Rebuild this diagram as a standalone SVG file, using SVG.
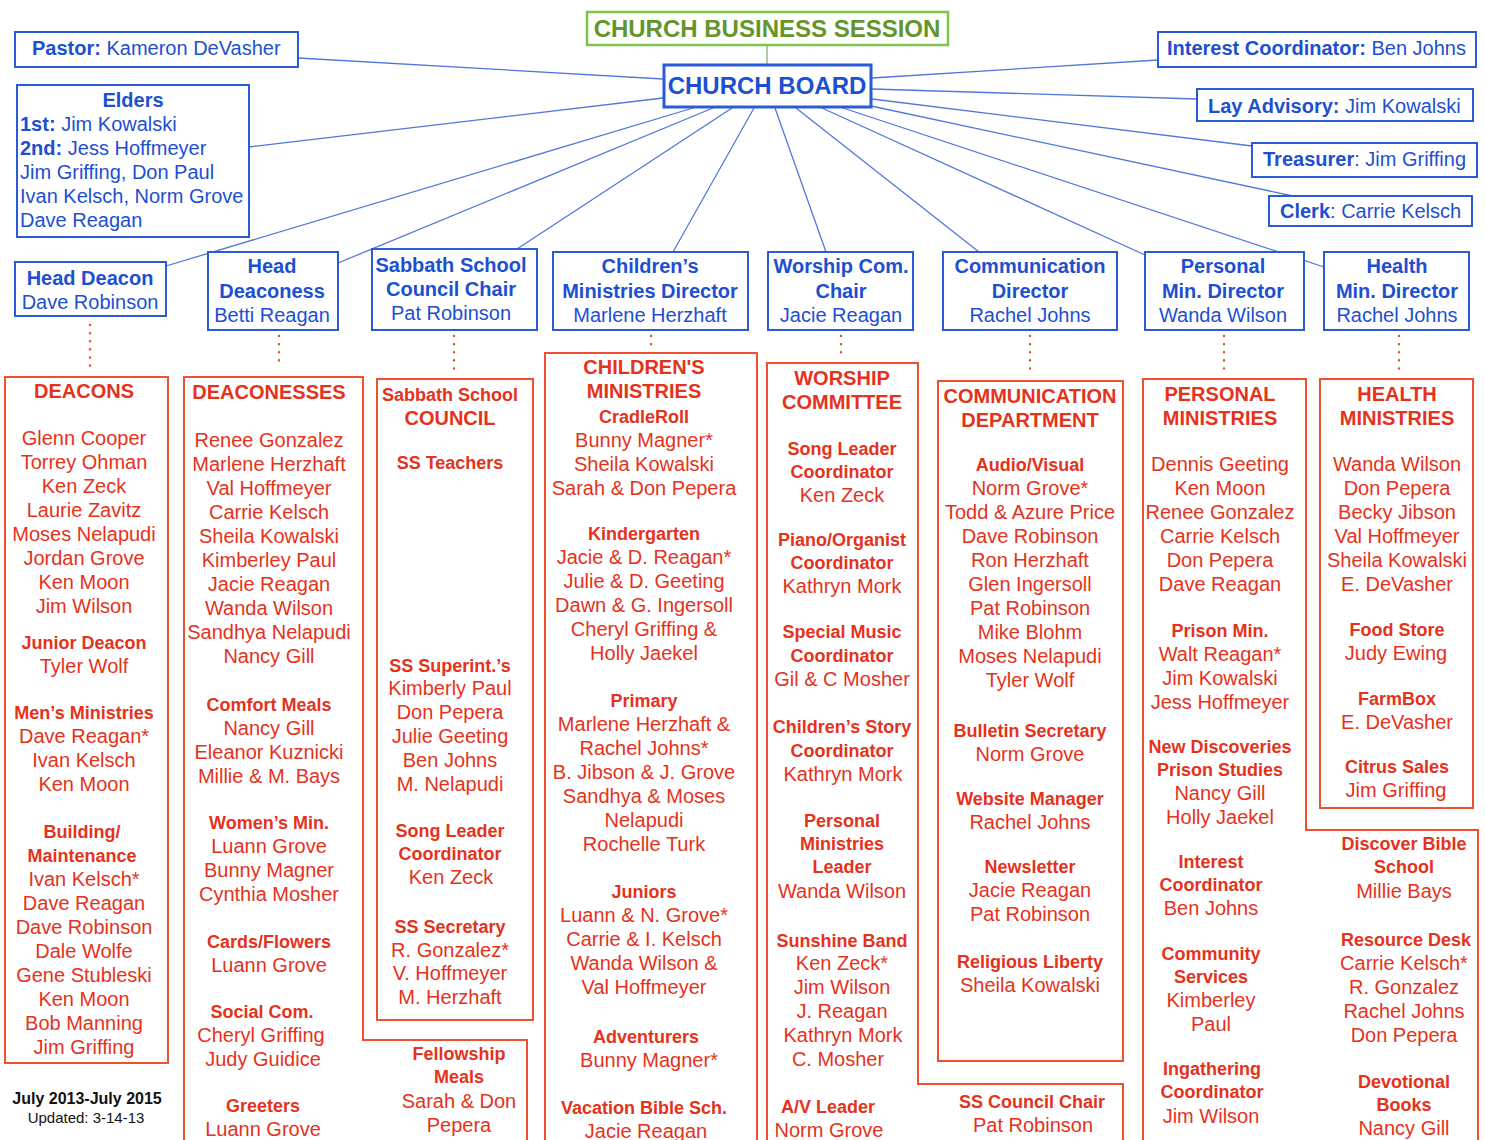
<svg xmlns="http://www.w3.org/2000/svg" width="1485" height="1140" viewBox="0 0 1485 1140">
<style>
text{font-family:"Liberation Sans",Arial,Helvetica,sans-serif}
.bb{fill:#1d4fd1;font-size:20px;font-weight:bold;text-anchor:middle}
.bn{fill:#1d4fd1;font-size:20px;text-anchor:middle}
.bl{fill:#1d4fd1;font-size:20px}
.big{fill:#1d4fd1;font-size:24px;font-weight:bold;text-anchor:middle}
.k{font-weight:bold}
.bx{fill:#fff;stroke:#2a5bd6;stroke-width:2}
.rx{fill:none;stroke:#ee5030;stroke-width:2}
.rh{fill:#e5321b;font-size:20px;font-weight:bold;text-anchor:middle}
.rs{fill:#e5321b;font-size:18px;font-weight:bold;text-anchor:middle}
.rn{fill:#e5321b;font-size:20px;text-anchor:middle}
.ln{stroke:#4f78da;stroke-width:1.3;fill:none}
.dot{stroke:#ec4a2a;stroke-width:2.4;stroke-linecap:round;stroke-dasharray:0.1 8;fill:none}
</style>
<rect width="1485" height="1140" fill="#fff"/>

<g id="connectors">
<line x1="767" y1="46" x2="767" y2="64" stroke="#9bb88a" stroke-width="1.5"/>
<line class="ln" x1="298" y1="58" x2="663" y2="79"/>
<line class="ln" x1="249" y1="147" x2="663" y2="98"/>
<line class="ln" x1="166" y1="266" x2="693" y2="108"/>
<line class="ln" x1="338" y1="263" x2="713" y2="108"/>
<line class="ln" x1="517" y1="249" x2="732" y2="108"/>
<line class="ln" x1="673" y1="252" x2="754" y2="108"/>
<line class="ln" x1="775" y1="108" x2="826" y2="252"/>
<line class="ln" x1="796" y1="108" x2="979" y2="252"/>
<line class="ln" x1="822" y1="108" x2="1145" y2="255"/>
<line class="ln" x1="843" y1="108" x2="1324" y2="267"/>
<line class="ln" x1="871" y1="106" x2="1293" y2="196"/>
<line class="ln" x1="872" y1="99" x2="1252" y2="146"/>
<line class="ln" x1="872" y1="89" x2="1197" y2="99"/>
<line class="ln" x1="872" y1="78" x2="1158" y2="60"/>
<line class="dot" x1="90" y1="325" x2="90" y2="373"/>
<line class="dot" x1="279" y1="336" x2="279" y2="368"/>
<line class="dot" x1="454" y1="336" x2="454" y2="376"/>
<line class="dot" x1="651" y1="336" x2="651" y2="352"/>
<line class="dot" x1="841" y1="336" x2="841" y2="360"/>
<line class="dot" x1="1030" y1="336" x2="1030" y2="376"/>
<line class="dot" x1="1224" y1="336" x2="1224" y2="376"/>
<line class="dot" x1="1399" y1="336" x2="1399" y2="376"/>
</g>

<g id="session">
<rect x="587" y="12" width="361" height="33" fill="#fff" stroke="#80c450" stroke-width="2.5"/>
<text x="767" y="37" font-size="24" font-weight="bold" fill="#62962a" text-anchor="middle">CHURCH BUSINESS SESSION</text>
</g>
<g id="board">
<rect x="664" y="65" width="207" height="42" fill="#fff" stroke="#2a5bd6" stroke-width="3"/>
<text class="big" x="767" y="94">CHURCH BOARD</text>
</g>

<g id="pastor">
<rect class="bx" x="15" y="32" width="283" height="35"/>
<text class="bl" x="32" y="55"><tspan class="k">Pastor:</tspan> Kameron DeVasher</text>
</g>
<g id="elders">
<rect class="bx" x="17" y="85" width="232" height="152"/>
<text class="bb" x="133" y="107">Elders</text>
<text class="bl" x="20" y="131"><tspan class="k">1st:</tspan> Jim Kowalski</text>
<text class="bl" x="20" y="155"><tspan class="k">2nd:</tspan> Jess Hoffmeyer</text>
<text class="bl" x="20" y="179">Jim Griffing, Don Paul</text>
<text class="bl" x="20" y="203">Ivan Kelsch, Norm Grove</text>
<text class="bl" x="20" y="227">Dave Reagan</text>
</g>
<g id="interest">
<rect class="bx" x="1158" y="32" width="318" height="35"/>
<text class="bl" x="1167" y="55"><tspan class="k">Interest Coordinator:</tspan> Ben Johns</text>
</g>
<g id="lay">
<rect class="bx" x="1197" y="89" width="276" height="32"/>
<text class="bl" x="1208" y="113"><tspan class="k">Lay Advisory:</tspan> Jim Kowalski</text>
</g>
<g id="treasurer">
<rect class="bx" x="1252" y="143" width="225" height="34"/>
<text class="bl" x="1263" y="166"><tspan class="k">Treasurer</tspan>: Jim Griffing</text>
</g>
<g id="clerk">
<rect class="bx" x="1269" y="196" width="203" height="30"/>
<text class="bl" x="1280" y="218"><tspan class="k">Clerk</tspan>: Carrie Kelsch</text>
</g>

<g id="head-deacon">
<rect class="bx" x="15" y="262" width="151" height="54"/>
<text class="bb" x="90" y="285">Head Deacon</text>
<text class="bn" x="90" y="309">Dave Robinson</text>
</g>
<g id="head-deaconess">
<rect class="bx" x="208" y="252" width="130" height="78"/>
<text class="bb" x="272" y="273">Head</text>
<text class="bb" x="272" y="298">Deaconess</text>
<text class="bn" x="272" y="322">Betti Reagan</text>
</g>
<g id="ss-chair">
<rect class="bx" x="372" y="249" width="165" height="81"/>
<text class="bb" x="451" y="272">Sabbath School</text>
<text class="bb" x="451" y="296">Council Chair</text>
<text class="bn" x="451" y="320">Pat Robinson</text>
</g>
<g id="cm-director">
<rect class="bx" x="553" y="252" width="195" height="78"/>
<text class="bb" x="650" y="273">Children’s</text>
<text class="bb" x="650" y="298">Ministries Director</text>
<text class="bn" x="650" y="322">Marlene Herzhaft</text>
</g>
<g id="worship-chair">
<rect class="bx" x="768" y="252" width="145" height="78"/>
<text class="bb" x="841" y="273">Worship Com.</text>
<text class="bb" x="841" y="298">Chair</text>
<text class="bn" x="841" y="322">Jacie Reagan</text>
</g>
<g id="comm-director">
<rect class="bx" x="943" y="252" width="174" height="78"/>
<text class="bb" x="1030" y="273">Communication</text>
<text class="bb" x="1030" y="298">Director</text>
<text class="bn" x="1030" y="322">Rachel Johns</text>
</g>
<g id="pm-director">
<rect class="bx" x="1145" y="252" width="159" height="78"/>
<text class="bb" x="1223" y="273">Personal</text>
<text class="bb" x="1223" y="298">Min. Director</text>
<text class="bn" x="1223" y="322">Wanda Wilson</text>
</g>
<g id="hm-director">
<rect class="bx" x="1324" y="252" width="145" height="78"/>
<text class="bb" x="1397" y="273">Health</text>
<text class="bb" x="1397" y="298">Min. Director</text>
<text class="bn" x="1397" y="322">Rachel Johns</text>
</g>

<g id="deacons">
<rect class="rx" x="5" y="377" width="163" height="686"/>
<text class="rh" x="84" y="398">DEACONS</text>
<text class="rn"><tspan x="84" y="445">Glenn Cooper</tspan><tspan x="84" y="469">Torrey Ohman</tspan><tspan x="84" y="493">Ken Zeck</tspan><tspan x="84" y="517">Laurie Zavitz</tspan><tspan x="84" y="541">Moses Nelapudi</tspan><tspan x="84" y="565">Jordan Grove</tspan><tspan x="84" y="589">Ken Moon</tspan><tspan x="84" y="613">Jim Wilson</tspan></text>
<text class="rs" x="84" y="649">Junior Deacon</text>
<text class="rn" x="84" y="673">Tyler Wolf</text>
<text class="rs" x="84" y="719">Men’s Ministries</text>
<text class="rn"><tspan x="84" y="743">Dave Reagan*</tspan><tspan x="84" y="767">Ivan Kelsch</tspan><tspan x="84" y="791">Ken Moon</tspan></text>
<text class="rs"><tspan x="82" y="838">Building/</tspan><tspan x="82" y="862">Maintenance</tspan></text>
<text class="rn"><tspan x="84" y="886">Ivan Kelsch*</tspan><tspan x="84" y="910">Dave Reagan</tspan><tspan x="84" y="934">Dave Robinson</tspan><tspan x="84" y="958">Dale Wolfe</tspan><tspan x="84" y="982">Gene Stubleski</tspan><tspan x="84" y="1006">Ken Moon</tspan><tspan x="84" y="1030">Bob Manning</tspan><tspan x="84" y="1054">Jim Griffing</tspan></text>
</g>

<g id="deaconesses">
<path class="rx" d="M184,1145 V377 H363 V1040 H527 V1145"/>
<text class="rh" x="269" y="399">DEACONESSES</text>
<text class="rn"><tspan x="269" y="447">Renee Gonzalez</tspan><tspan x="269" y="471">Marlene Herzhaft</tspan><tspan x="269" y="495">Val Hoffmeyer</tspan><tspan x="269" y="519">Carrie Kelsch</tspan><tspan x="269" y="543">Sheila Kowalski</tspan><tspan x="269" y="567">Kimberley Paul</tspan><tspan x="269" y="591">Jacie Reagan</tspan><tspan x="269" y="615">Wanda Wilson</tspan><tspan x="269" y="639">Sandhya Nelapudi</tspan><tspan x="269" y="663">Nancy Gill</tspan></text>
<text class="rs" x="269" y="711">Comfort Meals</text>
<text class="rn"><tspan x="269" y="735">Nancy Gill</tspan><tspan x="269" y="759">Eleanor Kuznicki</tspan><tspan x="269" y="783">Millie &amp; M. Bays</tspan></text>
<text class="rs" x="269" y="829">Women’s Min.</text>
<text class="rn"><tspan x="269" y="853">Luann Grove</tspan><tspan x="269" y="877">Bunny Magner</tspan><tspan x="269" y="901">Cynthia Mosher</tspan></text>
<text class="rs" x="269" y="948">Cards/Flowers</text>
<text class="rn" x="269" y="972">Luann Grove</text>
<text class="rs" x="262" y="1018">Social Com.</text>
<text class="rn"><tspan x="261" y="1042">Cheryl Griffing</tspan><tspan x="263" y="1066">Judy Guidice</tspan></text>
<text class="rs" x="263" y="1112">Greeters</text>
<text class="rn" x="263" y="1136">Luann Grove</text>
<text class="rs"><tspan x="459" y="1060">Fellowship</tspan><tspan x="459" y="1083">Meals</tspan></text>
<text class="rn"><tspan x="459" y="1108">Sarah &amp; Don</tspan><tspan x="459" y="1132">Pepera</tspan></text>
</g>

<g id="ss-council">
<rect class="rx" x="377" y="379" width="156" height="641"/>
<text class="rs" x="450" y="401">Sabbath School</text>
<text class="rh" x="450" y="425">COUNCIL</text>
<text class="rs" x="450" y="469">SS Teachers</text>
<text class="rs" x="450" y="672">SS Superint.’s</text>
<text class="rn"><tspan x="450" y="695">Kimberly Paul</tspan><tspan x="450" y="719">Don Pepera</tspan><tspan x="450" y="743">Julie Geeting</tspan><tspan x="450" y="767">Ben Johns</tspan><tspan x="450" y="791">M. Nelapudi</tspan></text>
<text class="rs"><tspan x="450" y="837">Song Leader</tspan><tspan x="450" y="860">Coordinator</tspan></text>
<text class="rn" x="451" y="884">Ken Zeck</text>
<text class="rs" x="450" y="933">SS Secretary</text>
<text class="rn"><tspan x="450" y="957">R. Gonzalez*</tspan><tspan x="450" y="980">V. Hoffmeyer</tspan><tspan x="450" y="1004">M. Herzhaft</tspan></text>
</g>

<g id="childrens-ministries">
<path class="rx" d="M545,1145 V353 H757 V1145"/>
<text class="rh"><tspan x="644" y="374">CHILDREN'S</tspan><tspan x="644" y="398">MINISTRIES</tspan></text>
<text class="rs" x="644" y="423">CradleRoll</text>
<text class="rn"><tspan x="644" y="447">Bunny Magner*</tspan><tspan x="644" y="471">Sheila Kowalski</tspan><tspan x="644" y="495">Sarah &amp; Don Pepera</tspan></text>
<text class="rs" x="644" y="540">Kindergarten</text>
<text class="rn"><tspan x="644" y="564">Jacie &amp; D. Reagan*</tspan><tspan x="644" y="588">Julie &amp; D. Geeting</tspan><tspan x="644" y="612">Dawn &amp; G. Ingersoll</tspan><tspan x="644" y="636">Cheryl Griffing &amp;</tspan><tspan x="644" y="660">Holly Jaekel</tspan></text>
<text class="rs" x="644" y="707">Primary</text>
<text class="rn"><tspan x="644" y="731">Marlene Herzhaft &amp;</tspan><tspan x="644" y="755">Rachel Johns*</tspan><tspan x="644" y="779">B. Jibson &amp; J. Grove</tspan><tspan x="644" y="803">Sandhya &amp; Moses</tspan><tspan x="644" y="827">Nelapudi</tspan><tspan x="644" y="851">Rochelle Turk</tspan></text>
<text class="rs" x="644" y="898">Juniors</text>
<text class="rn"><tspan x="644" y="922">Luann &amp; N. Grove*</tspan><tspan x="644" y="946">Carrie &amp; I. Kelsch</tspan><tspan x="644" y="970">Wanda Wilson &amp;</tspan><tspan x="644" y="994">Val Hoffmeyer</tspan></text>
<text class="rs" x="646" y="1043">Adventurers</text>
<text class="rn" x="649" y="1067">Bunny Magner*</text>
<text class="rs" x="644" y="1114">Vacation Bible Sch.</text>
<text class="rn" x="646" y="1138">Jacie Reagan</text>
</g>

<g id="worship-committee">
<path class="rx" d="M767,1145 V363 H918 V1084 H1123 V1145"/>
<text class="rh"><tspan x="842" y="385">WORSHIP</tspan><tspan x="842" y="409">COMMITTEE</tspan></text>
<text class="rs"><tspan x="842" y="455">Song Leader</tspan><tspan x="842" y="478">Coordinator</tspan></text>
<text class="rn" x="842" y="502">Ken Zeck</text>
<text class="rs"><tspan x="842" y="546">Piano/Organist</tspan><tspan x="842" y="569">Coordinator</tspan></text>
<text class="rn" x="842" y="593">Kathryn Mork</text>
<text class="rs"><tspan x="842" y="638">Special Music</tspan><tspan x="842" y="662">Coordinator</tspan></text>
<text class="rn" x="842" y="686">Gil &amp; C Mosher</text>
<text class="rs"><tspan x="842" y="733">Children’s Story</tspan><tspan x="842" y="757">Coordinator</tspan></text>
<text class="rn" x="843" y="781">Kathryn Mork</text>
<text class="rs"><tspan x="842" y="827">Personal</tspan><tspan x="842" y="850">Ministries</tspan><tspan x="842" y="873">Leader</tspan></text>
<text class="rn" x="842" y="898">Wanda Wilson</text>
<text class="rs" x="842" y="947">Sunshine Band</text>
<text class="rn"><tspan x="842" y="970">Ken Zeck*</tspan><tspan x="842" y="994">Jim Wilson</tspan><tspan x="842" y="1018">J. Reagan</tspan><tspan x="843" y="1042">Kathryn Mork</tspan><tspan x="838" y="1066">C. Mosher</tspan></text>
<text class="rs" x="828" y="1113">A/V Leader</text>
<text class="rn" x="829" y="1137">Norm Grove</text>
<text class="rs" x="1032" y="1108">SS Council Chair</text>
<text class="rn" x="1033" y="1132">Pat Robinson</text>
</g>

<g id="communication-department">
<rect class="rx" x="938" y="381" width="185" height="680"/>
<text class="rh"><tspan x="1030" y="403">COMMUNICATION</tspan><tspan x="1030" y="427">DEPARTMENT</tspan></text>
<text class="rs" x="1030" y="471">Audio/Visual</text>
<text class="rn"><tspan x="1030" y="495">Norm Grove*</tspan><tspan x="1030" y="519">Todd &amp; Azure Price</tspan><tspan x="1030" y="543">Dave Robinson</tspan><tspan x="1030" y="567">Ron Herzhaft</tspan><tspan x="1030" y="591">Glen Ingersoll</tspan><tspan x="1030" y="615">Pat Robinson</tspan><tspan x="1030" y="639">Mike Blohm</tspan><tspan x="1030" y="663">Moses Nelapudi</tspan><tspan x="1030" y="687">Tyler Wolf</tspan></text>
<text class="rs" x="1030" y="737">Bulletin Secretary</text>
<text class="rn" x="1030" y="761">Norm Grove</text>
<text class="rs" x="1030" y="805">Website Manager</text>
<text class="rn" x="1030" y="829">Rachel Johns</text>
<text class="rs" x="1030" y="873">Newsletter</text>
<text class="rn"><tspan x="1030" y="897">Jacie Reagan</tspan><tspan x="1030" y="921">Pat Robinson</tspan></text>
<text class="rs" x="1030" y="968">Religious Liberty</text>
<text class="rn" x="1030" y="992">Sheila Kowalski</text>
</g>

<g id="personal-ministries">
<path class="rx" d="M1143,1145 V379 H1306 V830 H1478 V1145"/>
<text class="rh"><tspan x="1220" y="401">PERSONAL</tspan><tspan x="1220" y="425">MINISTRIES</tspan></text>
<text class="rn"><tspan x="1220" y="471">Dennis Geeting</tspan><tspan x="1220" y="495">Ken Moon</tspan><tspan x="1220" y="519">Renee Gonzalez</tspan><tspan x="1220" y="543">Carrie Kelsch</tspan><tspan x="1220" y="567">Don Pepera</tspan><tspan x="1220" y="591">Dave Reagan</tspan></text>
<text class="rs" x="1220" y="637">Prison Min.</text>
<text class="rn"><tspan x="1220" y="661">Walt Reagan*</tspan><tspan x="1220" y="685">Jim Kowalski</tspan><tspan x="1220" y="709">Jess Hoffmeyer</tspan></text>
<text class="rs"><tspan x="1220" y="753">New Discoveries</tspan><tspan x="1220" y="776">Prison Studies</tspan></text>
<text class="rn"><tspan x="1220" y="800">Nancy Gill</tspan><tspan x="1220" y="824">Holly Jaekel</tspan></text>
<text class="rs"><tspan x="1211" y="868">Interest</tspan><tspan x="1211" y="891">Coordinator</tspan></text>
<text class="rn" x="1211" y="915">Ben Johns</text>
<text class="rs"><tspan x="1211" y="960">Community</tspan><tspan x="1211" y="983">Services</tspan></text>
<text class="rn"><tspan x="1211" y="1007">Kimberley</tspan><tspan x="1211" y="1031">Paul</tspan></text>
<text class="rs"><tspan x="1212" y="1075">Ingathering</tspan><tspan x="1212" y="1098">Coordinator</tspan></text>
<text class="rn" x="1211" y="1123">Jim Wilson</text>
<text class="rs"><tspan x="1404" y="850">Discover Bible</tspan><tspan x="1404" y="873">School</tspan></text>
<text class="rn" x="1404" y="898">Millie Bays</text>
<text class="rs" x="1406" y="946">Resource Desk</text>
<text class="rn"><tspan x="1404" y="970">Carrie Kelsch*</tspan><tspan x="1404" y="994">R. Gonzalez</tspan><tspan x="1404" y="1018">Rachel Johns</tspan><tspan x="1404" y="1042">Don Pepera</tspan></text>
<text class="rs"><tspan x="1404" y="1088">Devotional</tspan><tspan x="1404" y="1111">Books</tspan></text>
<text class="rn" x="1404" y="1135">Nancy Gill</text>
</g>

<g id="health-ministries">
<rect class="rx" x="1320" y="379" width="153" height="429"/>
<text class="rh"><tspan x="1397" y="401">HEALTH</tspan><tspan x="1397" y="425">MINISTRIES</tspan></text>
<text class="rn"><tspan x="1397" y="471">Wanda Wilson</tspan><tspan x="1397" y="495">Don Pepera</tspan><tspan x="1397" y="519">Becky Jibson</tspan><tspan x="1397" y="543">Val Hoffmeyer</tspan><tspan x="1397" y="567">Sheila Kowalski</tspan><tspan x="1397" y="591">E. DeVasher</tspan></text>
<text class="rs" x="1397" y="636">Food Store</text>
<text class="rn" x="1396" y="660">Judy Ewing</text>
<text class="rs" x="1397" y="705">FarmBox</text>
<text class="rn" x="1397" y="729">E. DeVasher</text>
<text class="rs" x="1397" y="773">Citrus Sales</text>
<text class="rn" x="1396" y="797">Jim Griffing</text>
</g>

<g id="footer">
<text x="87" y="1104" font-size="16" font-weight="bold" fill="#111" text-anchor="middle">July 2013-July 2015</text>
<text x="86" y="1123" font-size="15" fill="#111" text-anchor="middle">Updated: 3-14-13</text>
</g>
</svg>
